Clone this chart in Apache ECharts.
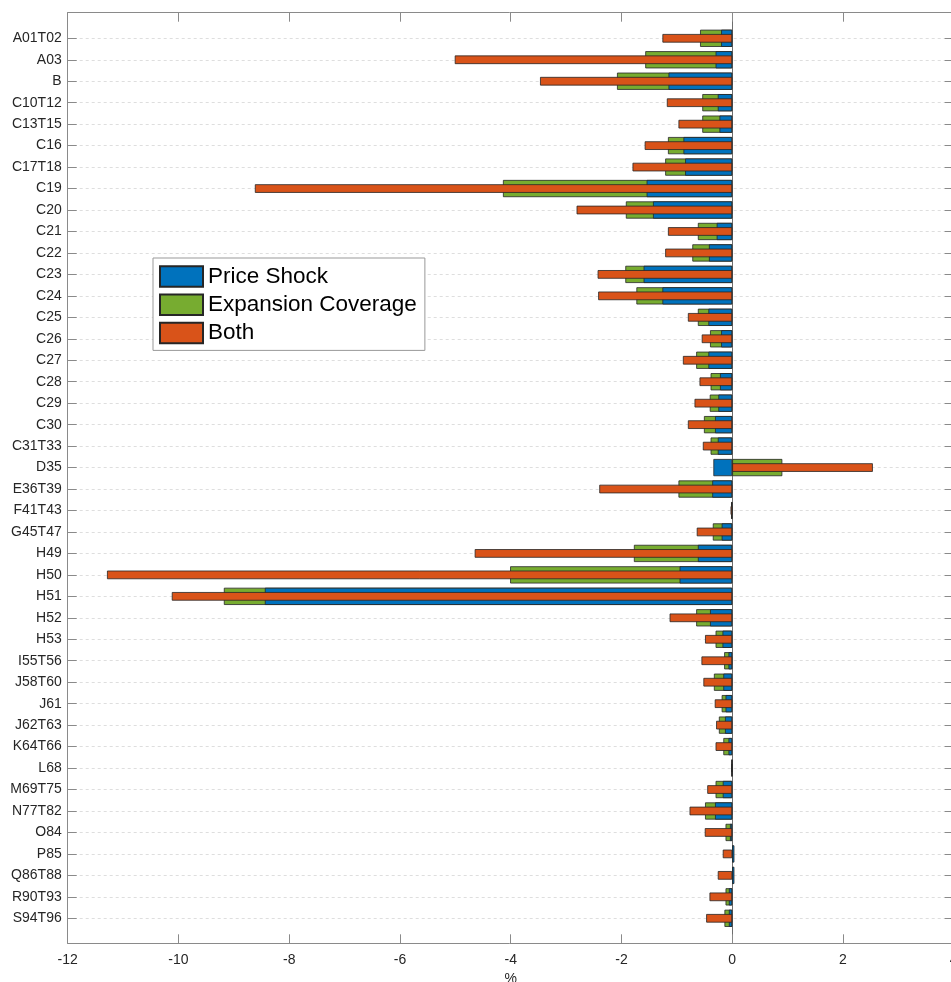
<!DOCTYPE html>
<html>
<head>
<meta charset="utf-8">
<script src="https://cdn.jsdelivr.net/npm/echarts@6/dist/echarts.min.js"></script>
<style>
html,body{margin:0;padding:0;background:#fff;}
#chart{width:951px;height:982px;}
</style>
</head>
<body>
<div id="chart"></div>
<script>
const categories = ['A01T02','A03','B','C10T12','C13T15','C16','C17T18','C19','C20','C21','C22','C23','C24','C25','C26','C27','C28','C29','C30','C31T33','D35','E36T39','F41T43','G45T47','H49','H50','H51','H52','H53','I55T56','J58T60','J61','J62T63','K64T66','L68','M69T75','N77T82','O84','P85','Q86T88','R90T93','S94T96'];

const priceShock = [-0.20,-0.30,-1.15,-0.26,-0.23,-0.88,-0.85,-1.545,-1.43,-0.28,-0.42,-1.60,-1.26,-0.43,-0.20,-0.43,-0.22,-0.25,-0.31,-0.26,-0.34,-0.36,-0.01,-0.19,-0.62,-0.95,-8.44,-0.40,-0.175,-0.067,-0.16,-0.12,-0.13,-0.067,-0.01,-0.17,-0.31,-0.04,0.04,0.04,-0.06,-0.06];

const expansionCoverage = [-0.58,-1.57,-2.08,-0.54,-0.54,-1.16,-1.21,-4.14,-1.92,-0.62,-0.72,-1.93,-1.73,-0.62,-0.40,-0.65,-0.39,-0.405,-0.51,-0.39,0.905,-0.97,-0.02,-0.35,-1.775,-4.01,-9.18,-0.65,-0.30,-0.145,-0.33,-0.19,-0.24,-0.16,-0.01,-0.30,-0.49,-0.12,0.02,0.02,-0.12,-0.14];

const both = [-1.26,-5.01,-3.47,-1.18,-0.97,-1.58,-1.80,-8.62,-2.81,-1.16,-1.21,-2.43,-2.42,-0.80,-0.55,-0.89,-0.59,-0.68,-0.80,-0.53,2.54,-2.40,-0.03,-0.64,-4.65,-11.29,-10.12,-1.13,-0.49,-0.555,-0.52,-0.315,-0.29,-0.30,-0.015,-0.45,-0.77,-0.495,-0.17,-0.26,-0.41,-0.47];

const xTicks = {min: -12, max: 4, interval: 2};

const FONT = "'Liberation Sans', Arial, Helvetica, sans-serif";
const FRAME = '#8a8a8a';
const EDGE = '#262626';

const chart = echarts.init(document.getElementById('chart'), null, {renderer: 'canvas'});

const option = {
  animation: false,
  backgroundColor: '#ffffff',
  textStyle: {fontFamily: FONT},
  grid: [
    {left: 67.7, width: 886, top: 38.3, height: 880, outerBoundsMode: 'none', containLabel: false},
    {left: 67.7, width: 886, top: 12.7, height: 930.6, outerBoundsMode: 'none', containLabel: false}
  ],
  legend: {
    data: ['Price Shock', 'Expansion Coverage', 'Both'],
    orient: 'vertical',
    left: 153,
    top: 258,
    icon: 'rect',
    itemWidth: 43,
    itemHeight: 20.5,
    itemGap: 5.2,
    padding: [7, 8, 6, 6],
    borderColor: '#999',
    borderWidth: 1,
    backgroundColor: '#fff',
    textStyle: {fontSize: 22.5, color: '#000', fontFamily: FONT}
  },
  xAxis: [
    {gridIndex: 0, type: 'value', min: xTicks.min, max: xTicks.max, interval: xTicks.interval, show: false},
    {gridIndex: 1, type: 'value', position: 'bottom', min: xTicks.min, max: xTicks.max, interval: xTicks.interval,
      axisLine: {show: true, onZero: false, lineStyle: {color: FRAME, width: 1}},
      axisTick: {show: true, inside: true, length: 9, lineStyle: {color: FRAME}},
      axisLabel: {show: true, fontSize: 14, color: '#262626', margin: 10, fontFamily: FONT},
      splitLine: {show: false},
      name: '%', nameLocation: 'middle', nameGap: 28,
      nameTextStyle: {fontSize: 14, color: '#262626', fontFamily: FONT}
    },
    {gridIndex: 1, type: 'value', position: 'top', min: xTicks.min, max: xTicks.max, interval: xTicks.interval,
      axisLine: {show: true, onZero: false, lineStyle: {color: FRAME, width: 1}},
      axisTick: {show: true, inside: true, length: 9, lineStyle: {color: FRAME}},
      axisLabel: {show: false},
      splitLine: {show: false}
    }
  ],
  yAxis: [
    {gridIndex: 0, type: 'category', data: categories, inverse: true, boundaryGap: false, position: 'left',
      axisLine: {show: false, onZero: false},
      axisTick: {show: true, inside: true, length: 9, lineStyle: {color: FRAME}},
      axisLabel: {show: true, fontSize: 14, color: '#262626', margin: 6, fontFamily: FONT, interval: 0},
      splitLine: {show: true, lineStyle: {color: '#dedede', type: [3, 3], width: 1}}
    },
    {gridIndex: 0, type: 'category', data: categories, inverse: true, boundaryGap: false, position: 'right',
      axisLine: {show: false, onZero: false},
      axisTick: {show: true, inside: true, length: 9, lineStyle: {color: FRAME}},
      axisLabel: {show: false},
      splitLine: {show: false}
    },
    {gridIndex: 1, type: 'value', min: 0, max: 1, position: 'left',
      axisLine: {show: true, onZero: false, lineStyle: {color: FRAME, width: 1}},
      axisTick: {show: false}, axisLabel: {show: false}, splitLine: {show: false}
    },
    {gridIndex: 1, type: 'value', min: 0, max: 1, position: 'right',
      axisLine: {show: true, onZero: false, lineStyle: {color: FRAME, width: 1}},
      axisTick: {show: false}, axisLabel: {show: false}, splitLine: {show: false}
    },
    {gridIndex: 1, type: 'value', min: 0, max: 1, position: 'left',
      axisLine: {show: true, onZero: true, lineStyle: {color: '#6e6e6e', width: 1}},
      axisTick: {show: false}, axisLabel: {show: false}, splitLine: {show: false}
    }
  ],
  series: [
    {
      name: 'Expansion Coverage', type: 'bar', xAxisIndex: 0, yAxisIndex: 0,
      data: expansionCoverage, barWidth: 17.2, barGap: '-100%',
      itemStyle: {color: '#77AC30', borderColor: EDGE, borderWidth: 0.8},
      z: 3
    },
    {
      name: 'Price Shock', type: 'bar', xAxisIndex: 0, yAxisIndex: 0,
      data: priceShock, barWidth: 17.2, barGap: '-100%',
      itemStyle: {color: '#0072BD', borderColor: EDGE, borderWidth: 0.8},
      z: 4
    },
    {
      name: 'Both', type: 'bar', xAxisIndex: 0, yAxisIndex: 1,
      data: both, barWidth: 8.6,
      itemStyle: {color: '#D95319', borderColor: EDGE, borderWidth: 0.8},
      z: 5
    }
  ]
};

chart.setOption(option);
</script>
</body>
</html>
